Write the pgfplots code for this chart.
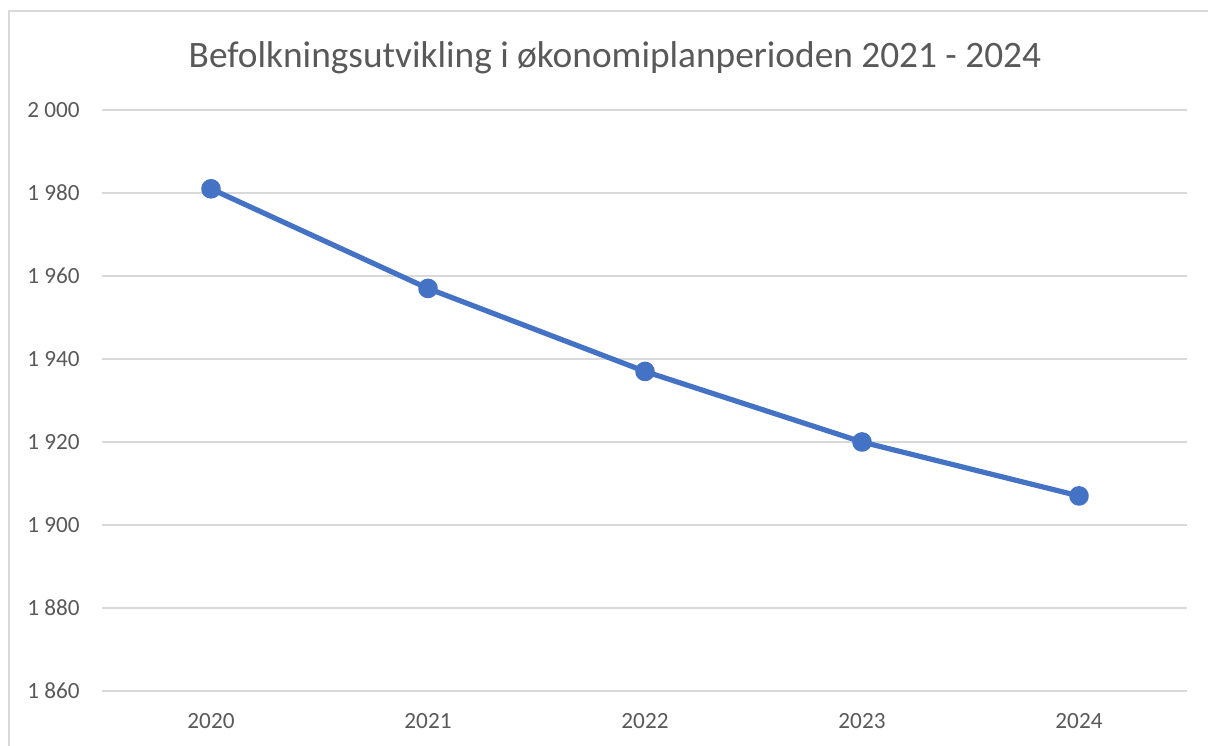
\documentclass[border=0pt]{standalone}
\usepackage{pgfplots}
\pgfplotsset{compat=1.18}
\usepackage{fontspec}
\setmainfont{Carlito}
\definecolor{linecol}{HTML}{4472C4}
\definecolor{gridcol}{HTML}{D9D9D9}
\definecolor{txtcol}{HTML}{595959}
\begin{document}
\begin{tikzpicture}
\useasboundingbox (0,0) rectangle (906pt,559.5pt);
\draw[gridcol, line width=1.1pt] (6.75pt,0) -- (6.75pt,551.25pt) -- (906pt,551.25pt);
\node[anchor=base, text=txtcol, font=\fontsize{28}{33}\selectfont, inner sep=0pt] at (461.25pt,508.5pt) {Befolkningsutvikling i økonomiplanperioden 2021 - 2024};
\begin{axis}[at={(76.875pt,41.25pt)}, anchor=south west, scale only axis,
  width=813.75pt, height=435.75pt,
  xmin=-0.5, xmax=4.5, ymin=1860, ymax=2000,
  xtick={0,...,4}, xticklabels={2020,2021,2022,2023,2024},
  ytick={1860,1880,...,2000},
  axis line style={draw=none},
  major tick length=0pt,
  ymajorgrids, grid style={gridcol, line width=0.9pt},
  clip=false,
  yticklabel style={anchor=east, inner sep=0pt, xshift=-16.9pt, text=txtcol, font=\fontsize{17.4}{20}\selectfont},
  xticklabel style={anchor=north, inner sep=0pt, yshift=-17pt, text=txtcol, font=\fontsize{17.4}{20}\selectfont},
  /pgf/number format/.cd, assume math mode=true, 1000 sep={\ }
]
\addplot[linecol, line width=3.9pt, line join=round, mark=*, mark size=5.4pt,
  mark options={fill=linecol, draw=none}] coordinates {(0,1981) (1,1957) (2,1937) (3,1920) (4,1907)};
\end{axis}
\end{tikzpicture}
\end{document}
